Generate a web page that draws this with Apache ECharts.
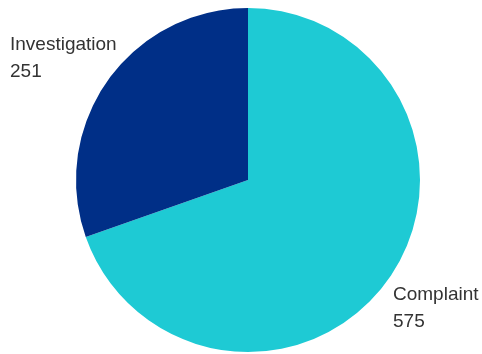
<!DOCTYPE html>
<html>
<head>
<meta charset="utf-8">
<script src="https://cdn.jsdelivr.net/npm/echarts@6/dist/echarts.min.js"></script>
<style>
  html, body { margin: 0; padding: 0; background: #fff; }
  #chart { width: 482px; height: 354px; }
</style>
</head>
<body>
<div id="chart"></div>
<script>
// Case types and counts
const categories = ['Complaint', 'Investigation'];
const counts = [575, 251];
const colors = ['#1ECAD4', '#002F87'];

const chart = echarts.init(document.getElementById('chart'), null, { renderer: 'canvas' });

const data = categories.map((name, i) => ({
  name: name,
  value: counts[i],
  itemStyle: { color: colors[i] }
}));

// Label anchor positions for each slice
const labelSpots = {
  Complaint: { x: 393, y: 281.5 },
  Investigation: { x: 10, y: 31.5 }
};

chart.setOption({
  animation: false,
  series: [{
    type: 'pie',
    center: [248, 180],
    radius: [0, 172],
    startAngle: 90,
    clockwise: true,
    data: data,
    itemStyle: { borderWidth: 0 },
    label: {
      show: true,
      position: 'outside',
      formatter: '{b}\n{c}',
      fontFamily: 'Liberation Sans, Arial, sans-serif',
      fontSize: 19,
      lineHeight: 27,
      color: '#333333',
      overflow: 'none',
      width: 200
    },
    labelLine: { show: false },
    labelLayout: function (params) {
      const spot = labelSpots[categories[params.dataIndex]];
      return { x: spot.x, y: spot.y, align: 'left', verticalAlign: 'top', hideOverlap: false, moveOverlap: false };
    },
    emphasis: { disabled: true }
  }]
});
</script>
</body>
</html>
